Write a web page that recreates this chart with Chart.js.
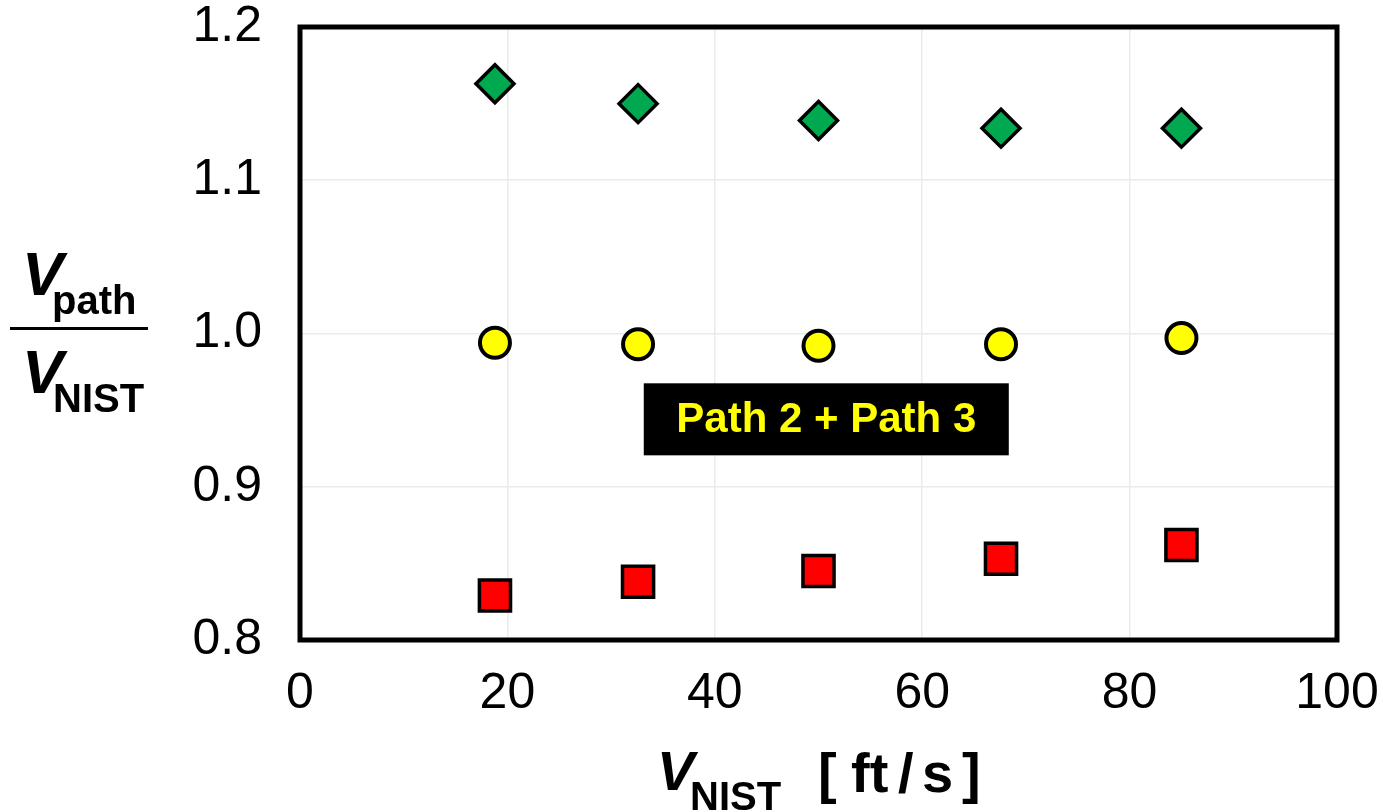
<!DOCTYPE html>
<html>
<head>
<meta charset="utf-8">
<script src="https://cdn.jsdelivr.net/npm/chart.js@4/dist/chart.umd.min.js"></script>
<style>
  html, body { margin: 0; padding: 0; background: #fff; }
  #wrap { width: 1383px; height: 812px; position: relative; }
</style>
</head>
<body>
<div id="wrap"><canvas id="chart"></canvas></div>
<script>
// velocities
const vNist = [18.8, 32.6, 50.0, 67.6, 85.0];
const diamondRatio = [1.163, 1.150, 1.139, 1.134, 1.134];
const circleRatio = [0.994, 0.993, 0.992, 0.993, 0.997];
const squareRatio = [0.829, 0.838, 0.845, 0.853, 0.862];
const xTicks = [0, 20, 40, 60, 80, 100];
const yTicks = [0.8, 0.9, 1.0, 1.1, 1.2];
const boxLabel = 'Path 2 + Path 3';

const FONT = '"Liberation Sans", Arial, sans-serif';

function pts(ys) {
    return vNist.map((x, i) => ({ x: x, y: ys[i] }));
}

// frame, label box and axis titles
const extras = {
    id: 'extras',
    beforeDatasetsDraw(chart) {
        const ctx = chart.ctx;
        const xs = chart.scales.x, ys = chart.scales.y;
        const l = xs.getPixelForValue(33.15), r = xs.getPixelForValue(68.35);
        const t = ys.getPixelForValue(0.9675), b = ys.getPixelForValue(0.9205);
        ctx.save();
        ctx.fillStyle = '#000';
        ctx.fillRect(l, t, r - l, b - t);
        ctx.fillStyle = '#ffff00';
        ctx.font = 'bold 42px ' + FONT;
        ctx.textAlign = 'center';
        ctx.textBaseline = 'middle';
        ctx.fillText(boxLabel, (l + r) / 2, (t + b) / 2 + 1);
        ctx.restore();
    },
    afterDatasetsDraw(chart) {
        const ctx = chart.ctx;
        const a = chart.chartArea;
        ctx.save();
        ctx.strokeStyle = '#000';
        ctx.lineWidth = 5;
        ctx.strokeRect(a.left, a.top, a.right - a.left, a.bottom - a.top);

        ctx.fillStyle = '#000';
        ctx.textBaseline = 'alphabetic';
        ctx.textAlign = 'left';
        // y title: fraction
        ctx.font = 'italic bold 62px ' + FONT;
        ctx.fillText('V', 22, 295);
        ctx.fillText('V', 22, 393);
        ctx.font = 'bold 40px ' + FONT;
        ctx.fillText('path', 52, 314);
        ctx.fillText('NIST', 53, 412);
        ctx.fillRect(10, 327, 138, 3);

        // x title
        ctx.font = 'italic bold 56px ' + FONT;
        ctx.fillText('V', 657, 790);
        ctx.font = 'bold 40px ' + FONT;
        ctx.fillText('NIST', 690, 810);
        ctx.font = 'bold 56px ' + FONT;
        ctx.fillText('[', 818, 792);
        ctx.fillText('ft', 851, 792);
        ctx.fillText('/', 898, 792);
        ctx.fillText('s', 922, 792);
        ctx.fillText(']', 962, 792);
        ctx.restore();
    }
};

const ctx = document.getElementById('chart').getContext('2d');
new Chart(ctx, {
    type: 'scatter',
    data: {
        datasets: [
            {
                data: pts(diamondRatio),
                pointStyle: 'rectRot',
                pointRadius: 19,
                backgroundColor: '#00a84f',
                borderColor: '#000',
                borderWidth: 3.5
            },
            {
                data: pts(circleRatio),
                pointStyle: 'circle',
                pointRadius: 15,
                backgroundColor: '#ffff00',
                borderColor: '#000',
                borderWidth: 4
            },
            {
                data: pts(squareRatio),
                pointStyle: 'rect',
                pointRadius: 22,
                backgroundColor: '#ff0000',
                borderColor: '#000',
                borderWidth: 3.5
            }
        ]
    },
    options: {
        responsive: true,
        maintainAspectRatio: false,
        animation: false,
        layout: { padding: 0 },
        plugins: {
            legend: { display: false },
            tooltip: { enabled: false }
        },
        scales: {
            x: {
                type: 'linear',
                min: 0,
                max: 100,
                afterBuildTicks(scale) { scale.ticks = xTicks.map(v => ({ value: v })); },
                afterFit(scale) {
                    scale.height = 172;
                    scale.paddingLeft = 0;
                    scale.paddingRight = 46;
                },
                grid: { color: '#ebebeb', lineWidth: 1.5, drawTicks: false },
                border: { display: false },
                ticks: {
                    color: '#000',
                    font: { family: FONT, size: 50 },
                    padding: 24,
                    maxRotation: 0
                }
            },
            y: {
                type: 'linear',
                min: 0.8,
                max: 1.2,
                afterBuildTicks(scale) { scale.ticks = yTicks.map(v => ({ value: v })); },
                afterFit(scale) {
                    scale.width = 300;
                    scale.paddingTop = 27;
                    scale.paddingBottom = 0;
                },
                grid: { color: '#ebebeb', lineWidth: 1.5, drawTicks: false },
                border: { display: false },
                ticks: {
                    color: '#000',
                    font: { family: FONT, size: 50 },
                    padding: 38,
                    callback: v => v.toFixed(1)
                }
            }
        }
    },
    plugins: [extras]
});
</script>
</body>
</html>
